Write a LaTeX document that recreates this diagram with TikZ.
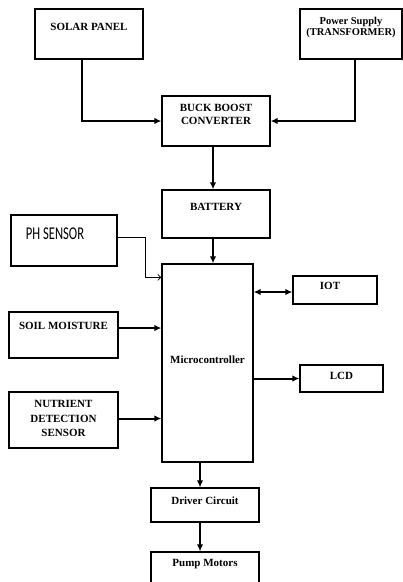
\documentclass[tikz,border=0pt]{standalone}
\usepackage{fontspec}
\usepackage{graphicx}
\setmainfont{Liberation Serif}
\newfontfamily\phfont{Carlito}
\usetikzlibrary{arrows.meta, positioning, calc}

\tikzset{
  blockbox/.style={draw, line width=1.3pt, inner sep=0pt},
  boxtext/.style={font=\bfseries\fontsize{11}{12}\selectfont, align=center, inner sep=0pt},
  flowarrow/.style={line width=2pt, -{Latex[length=7pt,width=6.5pt]}},
  duoarrow/.style={line width=2pt, {Latex[length=7pt,width=6.5pt]}-{Latex[length=7pt,width=6.5pt]}},
  thinarrow/.style={line width=0.8pt, -{Straight Barb[length=3pt,width=6pt]}}
}

\begin{document}
\begin{tikzpicture}[x=1pt, y=-1pt]
  \useasboundingbox (0,0) rectangle (403,582);
  \clip (0,0) rectangle (403,582);

  %% Power sources
  \node[blockbox, minimum width=108, minimum height=50,
    label={[boxtext, yshift=7pt]center:SOLAR PANEL}] (solar) at (89,34) {};
  \node[blockbox, minimum width=102, minimum height=50,
    label={[boxtext, font=\bfseries\fontsize{10.5}{11}\selectfont, yshift=6.5pt]center:Power Supply\\(TRANSFORMER)}] (power) at (351,34) {};

  %% Converter and storage
  \node[blockbox, minimum width=108, minimum height=50,
    label={[boxtext, font=\bfseries\fontsize{11}{13}\selectfont, yshift=6.5pt]center:BUCK BOOST\\CONVERTER}] (buck) at (216,121) {};
  \node[blockbox, minimum width=108, minimum height=48,
    label={[boxtext, yshift=7pt]center:BATTERY}] (battery) at (216,214) {};

  %% Sensors
  \node[blockbox, minimum width=106, minimum height=51,
    label={[inner sep=0pt, xshift=-9pt, yshift=6.5pt]center:\scalebox{0.7}[1]{\phfont\fontsize{18}{18}\selectfont PH SENSOR}}] (ph) at (64,240.5) {};
  \node[blockbox, minimum width=109, minimum height=46,
    label={[boxtext, yshift=9.5pt]center:SOIL MOISTURE}] (soil) at (63.5,335) {};
  \node[blockbox, minimum width=109, minimum height=56,
    label={[boxtext, font=\bfseries\fontsize{11}{14.5}\selectfont, yshift=1.5pt]center:NUTRIENT\\DETECTION\\SENSOR}] (nutr) at (63.5,420) {};

  %% Controller
  \node[blockbox, minimum width=91, minimum height=198,
    label={[boxtext, yshift=3pt]center:Microcontroller}] (micro) at (207.5,363) {};

  %% Outputs
  \node[blockbox, minimum width=84, minimum height=28,
    label={[boxtext, xshift=-5pt, yshift=4pt]center:IOT}] (iot) at (335,290) {};
  \node[blockbox, minimum width=83, minimum height=27,
    label={[boxtext, yshift=2.5pt]center:LCD}] (lcd) at (341.5,378.5) {};
  \node[blockbox, minimum width=108, minimum height=34,
    label={[boxtext, yshift=4pt]center:Driver Circuit}] (driver) at (205,505) {};
  \node[blockbox, minimum width=108, minimum height=48,
    label={[boxtext, yshift=12pt]center:Pump Motors}] (pump) at (205,576) {};

  %% Supply path
  \draw[flowarrow] ([xshift=-7pt]solar.south) |- (buck.west);
  \draw[flowarrow] ([xshift=4pt]power.south) |- (buck.east);
  \draw[flowarrow] ([xshift=-3pt]buck.south) -- ([xshift=-3pt]battery.north);
  \draw[flowarrow] ([xshift=-3pt]battery.south) -- ([xshift=-3pt]battery.south |- micro.north);

  %% Sensor inputs
  \draw[thinarrow] ([yshift=3.5pt]ph.east) -- ++(28,0) |- ([yshift=-14pt]micro.north west);
  \draw[flowarrow] ([yshift=7pt]soil.east) -- ([yshift=7pt]soil.east -| micro.west);
  \draw[flowarrow] ([yshift=1.5pt]nutr.east) -- ([yshift=1.5pt]nutr.east -| micro.west);

  %% Outputs
  \draw[duoarrow] ([yshift=-2pt]micro.east |- iot.west) -- ([yshift=-2pt]iot.west);
  \draw[flowarrow] (micro.east |- lcd.west) -- (lcd.west);
  \draw[flowarrow] ([xshift=-5pt]driver.north |- micro.south) -- ([xshift=-5pt]driver.north);
  \draw[flowarrow] ([xshift=-5pt]driver.south) -- ([xshift=-5pt]pump.north);

\end{tikzpicture}
\end{document}
